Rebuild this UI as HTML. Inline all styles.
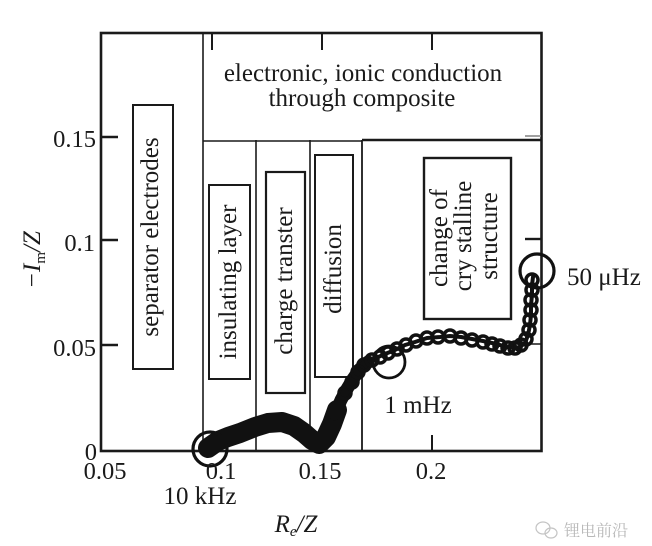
<!DOCTYPE html>
<html><head><meta charset="utf-8"><style>
html,body{margin:0;padding:0;background:#fff;}
svg{display:block;}
text{font-family:"Liberation Serif","Noto Serif CJK SC",serif;fill:#1a1a1a;}
</style></head><body>
<svg width="652" height="546" viewBox="0 0 652 546" xmlns="http://www.w3.org/2000/svg">
<rect x="0" y="0" width="652" height="546" fill="#fff"/>
<!-- region lines -->
<g stroke="#1a1a1a" fill="none">
<line x1="203" y1="33" x2="203" y2="451" stroke-width="1.6"/>
<line x1="256" y1="140" x2="256" y2="451" stroke-width="1.6"/>
<line x1="310" y1="140" x2="310" y2="451" stroke-width="1.6"/>
<line x1="362" y1="140" x2="362" y2="451" stroke-width="1.8"/>
<line x1="203" y1="141" x2="362" y2="141" stroke-width="1.6"/>
<line x1="362" y1="140" x2="541" y2="140" stroke-width="2.6"/>
<line x1="517" y1="344" x2="541" y2="344" stroke-width="1.6"/>
<!-- boxes -->
<rect x="133" y="105" width="40" height="264" stroke-width="2"/>
<rect x="209" y="185" width="41" height="194" stroke-width="2"/>
<rect x="266" y="172" width="39" height="221" stroke-width="2.2"/>
<rect x="315" y="155" width="38" height="222" stroke-width="2"/>
<rect x="424" y="158" width="87" height="161" stroke-width="2.4"/>
<!-- frame -->
<rect x="101" y="33" width="440.5" height="418" stroke-width="2.6"/>
<!-- ticks -->
<line x1="101" y1="137" x2="118" y2="137" stroke-width="2.6"/>
<line x1="101" y1="240" x2="118" y2="240" stroke-width="2.6"/>
<line x1="101" y1="345" x2="118" y2="345" stroke-width="2.6"/>
<line x1="212" y1="33" x2="212" y2="50" stroke-width="2"/>
<line x1="322" y1="33" x2="322" y2="50" stroke-width="2"/>
<line x1="432" y1="33" x2="432" y2="50" stroke-width="2"/>
<line x1="432" y1="451" x2="432" y2="435" stroke-width="2"/>
<line x1="525" y1="136" x2="541" y2="136" stroke-width="1.6" stroke="#888"/>
<line x1="525" y1="239" x2="541" y2="239" stroke-width="2.4"/>
</g>

<!-- data -->
<g stroke="#111" fill="none" stroke-linecap="round" stroke-linejoin="round">
<polyline stroke-width="20" points="208,448 218,441 228,437 240,433 255,427 268,423 282,422 294,426 304,433 312,440 319,444 326,437 332,424 337,410"/>
<polyline stroke-width="13" points="335,414 341,400 347,389 353,379 360,369 368,362"/>
<polyline stroke-width="4" points="368,362 376,358 385,354 395,350 405,345 415,342 427,338 440,337 450,336 461,337 472,339 483,341 492,343 500,345 507,347 514,348 520,347 525,343 528,335 530,325 531,315 531,305 532,295 532,285 533,277"/>
<g stroke-width="3.5">
<circle cx="345" cy="393" r="6"/><circle cx="352" cy="382" r="6"/><circle cx="358" cy="372" r="6"/>
<circle cx="364" cy="365" r="6"/><circle cx="372" cy="360" r="6"/><circle cx="380" cy="357" r="6"/>
<circle cx="388" cy="353" r="6"/><circle cx="397" cy="349" r="6"/><circle cx="406" cy="345" r="6"/>
<circle cx="416" cy="341" r="6"/><circle cx="427" cy="338" r="6"/><circle cx="438" cy="337" r="6"/>
<circle cx="450" cy="336" r="6"/><circle cx="461" cy="338" r="6"/><circle cx="472" cy="340" r="6"/>
<circle cx="483" cy="342" r="6"/><circle cx="492" cy="344" r="6"/><circle cx="500" cy="346" r="6"/>
<circle cx="508" cy="348" r="6"/><circle cx="515" cy="348" r="6"/><circle cx="521" cy="345" r="6"/>
<circle cx="526" cy="339" r="6"/><circle cx="529" cy="330" r="6"/><circle cx="530" cy="320" r="6"/>
<circle cx="531" cy="310" r="6"/><circle cx="531" cy="300" r="6"/><circle cx="532" cy="290" r="6"/>
<circle cx="532" cy="280" r="6"/>
</g>
<circle cx="210" cy="449" r="17" stroke-width="3.2"/>
<circle cx="389" cy="362" r="16" stroke-width="2.8"/>
<circle cx="537" cy="271" r="17" stroke-width="3.2"/>
</g>

<!-- tick labels -->
<g font-size="24.5">
<text x="96" y="147" text-anchor="end">0.15</text>
<text x="95" y="251" text-anchor="end">0.1</text>
<text x="96" y="356" text-anchor="end">0.05</text>
<text x="97" y="460" text-anchor="end">0</text>
<text x="105" y="479" text-anchor="middle">0.05</text>
<text x="221" y="479" text-anchor="middle">0.1</text>
<text x="320" y="479" text-anchor="middle">0.15</text>
<text x="431" y="479" text-anchor="middle">0.2</text>
</g>

<!-- annotations -->
<g font-size="25">
<text x="363" y="81" text-anchor="middle">electronic, ionic conduction</text>
<text x="362" y="106" text-anchor="middle">through composite</text>
<text x="200" y="504" text-anchor="middle">10 kHz</text>
<text x="418" y="413" text-anchor="middle">1 mHz</text>
<text x="567" y="285">50 μHz</text>
<text transform="translate(158,237) rotate(-90)" text-anchor="middle">separator electrodes</text>
<text transform="translate(236,282) rotate(-90)" text-anchor="middle">insulating layer</text>
<text transform="translate(292,281) rotate(-90)" text-anchor="middle">charge transter</text>
<text transform="translate(341,269) rotate(-90)" text-anchor="middle">diffusion</text>
<text transform="translate(447,238) rotate(-90)" text-anchor="middle">change of</text>
<text transform="translate(471,236) rotate(-90)" text-anchor="middle">cry stalline</text>
<text transform="translate(497,236) rotate(-90)" text-anchor="middle">structure</text>
</g>

<!-- axis labels -->
<text transform="translate(40,260) rotate(-90)" text-anchor="middle" font-size="25" font-style="italic">−<tspan>I</tspan><tspan font-size="15" dy="5" font-style="normal">m</tspan><tspan dy="-5">/Z</tspan></text>
<text x="296" y="532" text-anchor="middle" font-size="25" font-style="italic">R<tspan font-size="15" dy="4">e</tspan><tspan dy="-4">/Z</tspan></text>

<!-- watermark -->
<g fill="none" stroke="#c4c4c4" stroke-width="1.2">
<ellipse cx="543" cy="528" rx="7" ry="6"/>
<ellipse cx="551" cy="533" rx="6" ry="5"/>
</g>
<text x="564" y="536" font-size="16" fill="#b8b8b8" style="fill:#b8b8b8" font-family="'Noto Sans CJK SC',sans-serif">锂电前沿</text>
</svg>
</body></html>
